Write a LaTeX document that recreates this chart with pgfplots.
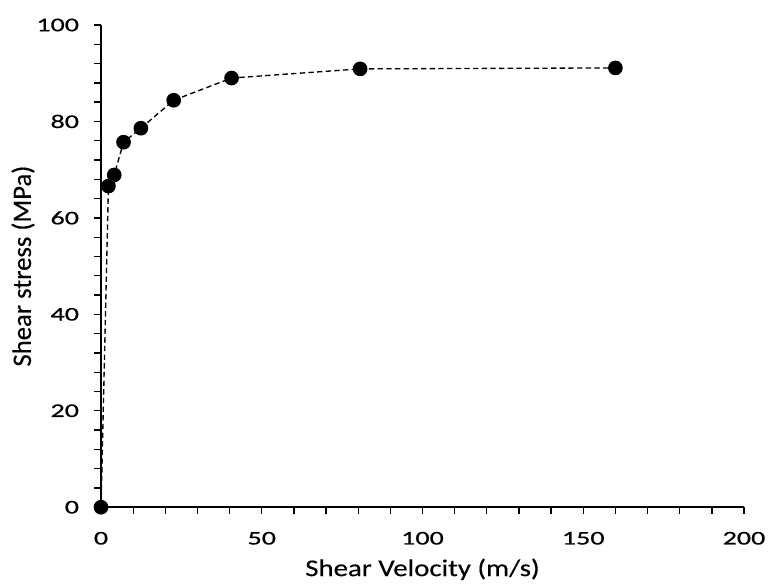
\documentclass[border=0pt]{standalone}
\usepackage{pgfplots}
\pgfplotsset{compat=1.18}
\usepackage{fontspec}
\setmainfont{Carlito}
\newfontfamily\tickfont[FakeStretch=1.45, FakeBold=0.6]{Carlito}
\newfontfamily\xlabfont[FakeStretch=1.2, FakeBold=0.3]{Carlito}
\newfontfamily\ylabfont[FakeBold=0.3]{Carlito}
\begin{document}
\begin{tikzpicture}
\begin{axis}[
  name=ax,
  scale only axis,
  width=482pt, height=361.5pt,
  xmin=0, xmax=200, ymin=0, ymax=100,
  axis lines=left,
  axis line style={-, line width=1.2pt},
  xtick={0,50,...,200}, ytick={0,20,...,100},
  minor xtick={10,20,30,40,60,70,80,90,110,120,130,140,160,170,180,190},
  minor ytick={4,8,12,16,24,28,32,36,44,48,52,56,64,68,72,76,84,88,92,96},
  tick align=outside,
  major tick length=5pt, minor tick length=5pt,
  tick style={black, line width=1pt},
  /pgf/number format/assume math mode=true,
  xticklabel style={font=\tickfont\fontsize{14.5}{17}\selectfont, yshift=-10pt},
  yticklabel style={font=\tickfont\fontsize{14.5}{17}\selectfont, xshift=-8pt},
  xlabel={Shear Velocity (m/s)},
  ylabel={Shear stress (MPa)},
  xlabel style={font=\xlabfont\fontsize{18}{22}\selectfont, at={(axis description cs:0.5,0)}, anchor=center, yshift=-46.5pt},
  ylabel style={font=\ylabfont\fontsize{20}{24}\selectfont, at={(axis description cs:0,0.5)}, anchor=center, yshift=58.5pt},
  clip=false,
]
\addplot[black, line width=1pt, dash pattern=on 4pt off 2.5pt, mark=*, mark size=5pt, mark options={solid}]
coordinates {
(0,0) (2.3,66.6) (4.1,68.9) (7.0,75.7) (12.4,78.6) (22.6,84.4) (40.6,89.0) (80.6,90.9) (160,91.1)
};
\end{axis}
\pgfresetboundingbox
\path[use as bounding box] ([shift={(-75.75pt,-57.75pt)}]ax.south west) rectangle ([shift={(18pt,18.75pt)}]ax.north east);
\end{tikzpicture}
\end{document}
